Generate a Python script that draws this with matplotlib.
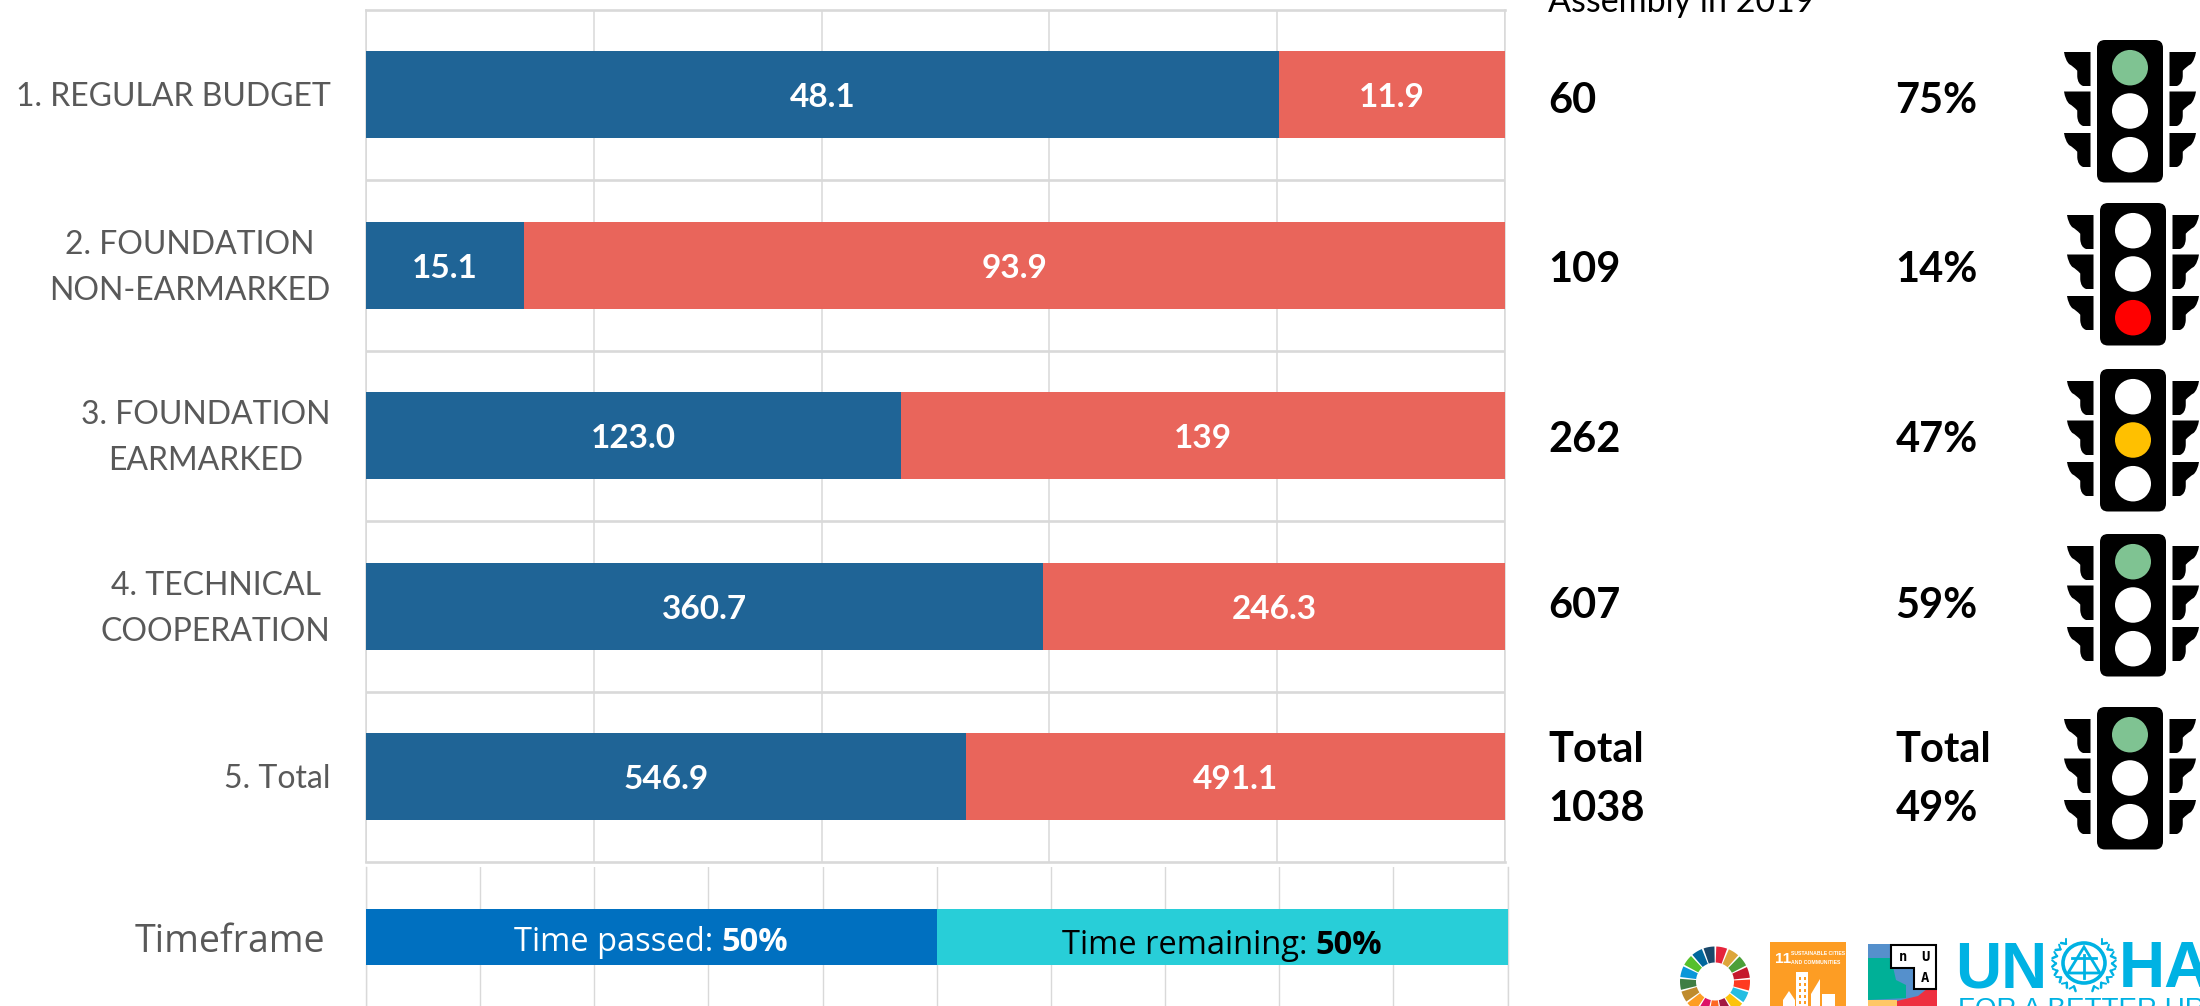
import numpy as np
import matplotlib
matplotlib.use("Agg")
import matplotlib.pyplot as plt
from matplotlib.patches import Circle, Ellipse, FancyBboxPatch, Polygon, Rectangle, PathPatch
from matplotlib.path import Path

categories = ["1. REGULAR BUDGET", "2. FOUNDATION\nNON-EARMARKED", "3. FOUNDATION\nEARMARKED",
              "4. TECHNICAL\nCOOPERATION", "5. Total"]
spent = [48.1, 15.1, 123.0, 360.7, 546.9]
remaining = [11.9, 93.9, 139.0, 246.3, 491.1]
spent_labels = ["48.1", "15.1", "123.0", "360.7", "546.9"]
remaining_labels = ["11.9", "93.9", "139", "246.3", "491.1"]
approved = ["60", "109", "262", "607", "Total\n1038"]
rates = ["75%", "14%", "47%", "59%", "Total\n49%"]
signal = ["green", "red", "amber", "green", "green"]
time_shares = [50, 50]
time_names = ["Time passed: ", "Time remaining: "]
header = "Assembly in 2019"

BLUE, RED, GRID = "#1F6496", "#E9655B", "#D9D9D9"
W, H = 2200, 1006
SANS, OPEN = "Lato", "Open Sans"
plt.rcParams["font.family"] = SANS

fig = plt.figure(figsize=(W / 100, H / 100), dpi=100, facecolor="white")


def px_axes(l, t, r, b, **kw):
    return fig.add_axes([l / W, 1 - b / H, (r - l) / W, (b - t) / H], **kw)


# ---------- main stacked bars
ax = px_axes(366, 9.5, 1505, 862)
y = np.arange(len(categories))
s = np.array(spent)
q = np.array(remaining)
tot = s + q
ax.barh(y, s / tot * 100, height=0.51, color=BLUE, zorder=3)
ax.barh(y, q / tot * 100, left=s / tot * 100, height=0.51, color=RED, zorder=3)
ax.set_xlim(0, 100)
ax.set_ylim(4.5, -0.5)
ax.set_xticks(np.arange(0, 101, 20))
ax.set_xticklabels([])
ax.set_yticks(y)
ax.set_yticklabels([])
for i, name in zip(y, categories):
    up = -1.9 if "\n" in name else -1.3
    ax.annotate(name, (0, i), xytext=(-25.5, up), textcoords="offset points", fontsize=23, color="#595959",
                ha="right", va="center", multialignment="center", linespacing=1.66, annotation_clip=False)
ax.set_yticks(y[:-1] + 0.5, minor=True)
ax.tick_params(axis="both", which="both", length=0)
ax.grid(axis="x", color=GRID, lw=1.1, zorder=0)
ax.grid(axis="y", which="minor", color=GRID, lw=1.9, zorder=0)
for sp in ax.spines.values():
    sp.set_color(GRID)
    sp.set_linewidth(1.1)
ax.spines["top"].set_linewidth(1.9)
ax.spines["bottom"].set_linewidth(1.9)
for i in y:
    ax.annotate(spent_labels[i], (s[i] / tot[i] * 50, i), xytext=(0, -2.2), textcoords="offset points",
                ha="center", va="center", color="white", fontsize=24, fontweight="bold", zorder=4)
    ax.annotate(remaining_labels[i], ((s[i] + q[i] / 2) / tot[i] * 100, i), xytext=(0, -2.2),
                textcoords="offset points", ha="center", va="center", color="white", fontsize=24,
                fontweight="bold", zorder=4)

# ---------- timeframe bar
tx = px_axes(366, 867, 1507.5, 1007)
tx.barh([0], [time_shares[0]], height=0.405, color="#0070C0", zorder=3)
tx.barh([0], [time_shares[1]], left=time_shares[0], height=0.405, color="#28CED8", zorder=3)
tx.set_xlim(0, 100)
tx.set_ylim(-0.5, 0.5)
tx.set_xticks(np.arange(0, 101, 10))
tx.set_xticklabels([])
tx.set_yticks([0])
tx.set_yticklabels(["Timeframe"], fontsize=27, color="#595959", family=OPEN)
tx.tick_params(axis="both", length=0)
tx.tick_params(axis="y", pad=29)
tx.grid(axis="x", color=GRID, lw=1.0, zorder=0)
for k, sp in tx.spines.items():
    sp.set_visible(k in ("left", "right"))
    sp.set_color(GRID)
    sp.set_linewidth(1.0)

# ---------- overlay in pixel coordinates
ov = fig.add_axes([0, 0, 1, 1], facecolor="none")
ov.set_xlim(0, W)
ov.set_ylim(H, 0)
ov.axis("off")
renderer = fig.canvas.get_renderer()


def mixed(cx, base, a, b, color, size=23.5):
    t1 = ov.text(0, base, a, fontsize=size, family=OPEN, color=color, va="baseline", ha="left")
    t2 = ov.text(0, base, b, fontsize=size, family=OPEN, fontweight="bold", color=color, va="baseline", ha="left")
    w1 = t1.get_window_extent(renderer).width
    w2 = t2.get_window_extent(renderer).width
    x0 = cx - (w1 + w2) / 2
    t1.set_x(x0)
    t2.set_x(x0 + w1)


mixed(651, 950.7, time_names[0], f"{time_shares[0]}%", "white")
mixed(1222, 954, time_names[1], f"{time_shares[1]}%", "black")

# right-hand columns
ov.text(1548, 12, header, fontsize=24.5, color="black", va="baseline", ha="left")
bases = [112.5, 281.5, 451.5, 618.5]
for i, b in enumerate(bases):
    ov.text(1548, b, approved[i], fontsize=30, fontweight="bold", color="black", va="baseline")
    ov.text(1895.5, b, rates[i], fontsize=30, fontweight="bold", color="black", va="baseline")
for col, txt in ((1548, approved[4]), (1895.5, rates[4])):
    a, b = txt.split("\n")
    ov.text(col, 762, a, fontsize=30, fontweight="bold", color="black", va="baseline")
    ov.text(col, 821, b, fontsize=30, fontweight="bold", color="black", va="baseline")

# traffic lights
LAMP = {"green": "#7FC392", "red": "#FF0000", "amber": "#FFC000"}
LIT = {"green": 0, "amber": 1, "red": 2}
light_pos = [(2130, 40), (2133, 203), (2133, 369), (2133, 534), (2130, 707)]


def wing(x_outer, x_inner, top, h):
    d = x_inner - x_outer
    P = lambda u, v: (x_outer + u * d, top + v * h)
    verts = [P(0, 0), P(1, 0), P(1, 1), P(.72, 1), P(.52, .95), P(.5, .72), P(.5, .55), P(.35, .42),
             P(.2, .36), P(.05, .25), P(0, 0), P(0, 0)]
    codes = [Path.MOVETO, Path.LINETO, Path.LINETO, Path.LINETO, Path.CURVE3, Path.CURVE3, Path.LINETO,
             Path.CURVE3, Path.CURVE3, Path.CURVE3, Path.CURVE3, Path.CLOSEPOLY]
    ov.add_patch(PathPatch(Path(verts, codes), fc="black", ec="none"))


def light(cx, top, state):
    ov.add_patch(FancyBboxPatch((cx - 33 + 8, top + 8), 50, 126.5, boxstyle="round,pad=8,rounding_size=8",
                                fc="black", ec="none"))
    for off, h in ((12, 34), (51.5, 34.5), (93, 34)):
        wing(cx - 66, cx - 39.5, top + off, h)
        wing(cx + 66, cx + 39.5, top + off, h)
    for k, off in enumerate((27.7, 71, 114.7)):
        col = LAMP[state] if LIT[state] == k else "white"
        ov.add_patch(Ellipse((cx, top + off), 36, 35.5, fc=col, ec="none"))


for (cx, top), st in zip(light_pos, signal):
    light(cx, top, st)

# SDG wheel
sdg = ["#E5243B", "#DDA63A", "#4C9F38", "#C5192D", "#FF3A21", "#26BDE2", "#FCC30B", "#A21942", "#FD6925",
       "#DD1367", "#FD9D24", "#BF8B2E", "#3F7E44", "#0A97D9", "#56C02B", "#00689D", "#19486A"]
n = len(sdg)
c = np.array([1715, 981.5])
for k, col in enumerate(sdg):
    a0 = np.radians(k * 360 / n + 1.5 + 0.6)
    a1 = np.radians((k + 1) * 360 / n - 1.5 + 0.6)
    ang = np.linspace(a0, a1, 8)
    outer = np.c_[c[0] + 35 * np.sin(ang), c[1] - 35 * np.cos(ang)]
    inner = np.c_[c[0] + 19 * np.sin(ang[::-1]), c[1] - 19 * np.cos(ang[::-1])]
    ov.add_patch(Polygon(np.r_[outer, inner], fc=col, ec="none"))

# SDG 11 tile
OR = "#FD9D24"
ov.add_patch(Rectangle((1770, 942), 76, 70, fc=OR, ec="none"))
ov.text(1775, 963, "11", fontsize=11, fontweight="bold", color="white", family="Liberation Sans", va="baseline")
ov.text(1791, 955, "SUSTAINABLE CITIES", fontsize=3.7, fontweight="bold", color="white",
        family="Liberation Sans", va="baseline")
ov.text(1791, 963.5, "AND COMMUNITIES", fontsize=3.7, fontweight="bold", color="white",
        family="Liberation Sans", va="baseline")
ov.add_patch(Rectangle((1796, 972), 12, 40, fc="white", ec="none"))
for wy in (977, 983, 989, 995, 1001):
    for wx in (1798.5, 1803.5):
        ov.add_patch(Rectangle((wx, wy), 2.5, 3, fc=OR, ec="none"))
ov.add_patch(Polygon([(1811, 1012), (1811, 994), (1820, 979), (1820, 1012)], fc="white", ec="none"))
ov.add_patch(Rectangle((1822, 994), 13, 18, fc="white", ec="none"))
ov.add_patch(Polygon([(1783, 1012), (1783, 1000), (1789, 991), (1795, 1000), (1795, 1012)], fc="white", ec="none"))

# NUA tile
ov.add_patch(Rectangle((1868, 944), 69, 68, fc="#5590CC", ec="none"))
ov.add_patch(Polygon([(1868, 958), (1891, 958), (1896, 980), (1906, 985), (1906, 998), (1868, 1000)],
                     fc="#00B097", ec="none"))
ov.add_patch(Rectangle((1868, 1000), 29, 12, fc="#FFC766", ec="none"))
ov.add_patch(Polygon([(1897, 1012), (1897, 1001), (1918, 996), (1937, 981), (1937, 1012)], fc="#EE3040", ec="none"))
ov.add_patch(Polygon([(1891, 945), (1936, 945), (1936, 989), (1913.5, 989), (1913.5, 968), (1891, 968)],
                     fc="white", ec="black", lw=1.5))
for tx_, ty_, ch in ((1903, 957, "n"), (1925, 957, "U"), (1925, 978, "A")):
    ov.text(tx_, ty_, ch, fontsize=10, fontweight="bold", color="black", family="DejaVu Sans Mono", ha="center", va="center")

# UN-Habitat logo
CY = "#00B2E3"
ov.text(1955, 987, "UN", fontsize=46, fontweight="bold", color=CY, family="Liberation Sans", va="baseline")
ov.text(2119, 987, "HA", fontsize=46, fontweight="bold", color=CY, family="Liberation Sans", va="baseline")
ov.text(1958, 1017, "FOR A BETTER UR", fontsize=20, color=CY, family="Liberation Sans", va="baseline")
ec = (2084, 963)
ov.add_patch(Ellipse(ec, 42, 40, fc="none", ec=CY, lw=2.6))
ov.add_patch(Polygon([(2084, 947), (2068, 973), (2100, 973)], fc="none", ec=CY, lw=2))
ov.plot([2072, 2096], [958, 958], color=CY, lw=2)
ov.plot([2084, 2084], [955, 978], color=CY, lw=2)
for side in (-1, 1):
    for a in np.arange(40, 172, 17):
        r = np.radians(a)
        x0, y0 = ec[0] + side * 28 * np.sin(r), ec[1] - 25 * np.cos(r)
        x1, y1 = x0 + side * 5 * np.sin(r + .7), y0 - 5 * np.cos(r + .7)
        ov.plot([x0, x1], [y0, y1], color=CY, lw=1.8, solid_capstyle="round")
        x1, y1 = x0 + side * 5 * np.sin(r - .7), y0 - 5 * np.cos(r - .7)
        ov.plot([x0, x1], [y0, y1], color=CY, lw=1.4, solid_capstyle="round")
ov.set_xlim(0, W)
ov.set_ylim(H, 0)

fig.savefig("out.png", dpi=100, facecolor="white")
